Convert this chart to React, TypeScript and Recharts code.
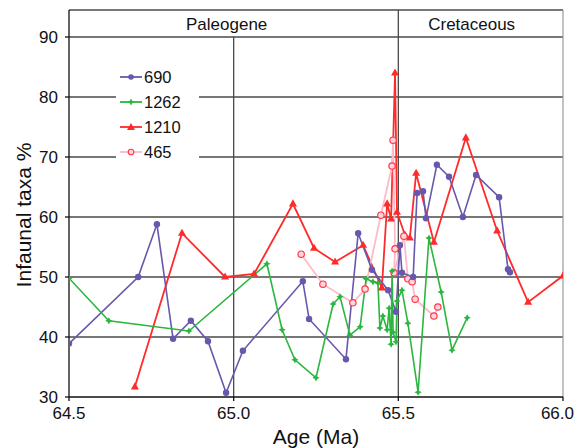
import { LineChart, Line, XAxis, YAxis, ReferenceLine, ReferenceArea } from "recharts";

const FONT = '"Liberation Sans", Arial, Helvetica, sans-serif';

const PURPLE = "#6858ad";
const GREEN = "#2bb63f";
const RED = "#ff2a2a";
const PINK = "#ffbac8";
const GRID = "#4a4a4a";

// Site 690
const age690 = [
  64.5, 64.71, 64.767, 64.816, 64.87, 64.922, 64.977, 65.028, 65.21, 65.229, 65.341,
  65.378, 65.42, 65.469, 65.493, 65.505, 65.511, 65.545, 65.557, 65.575, 65.584,
  65.617, 65.654, 65.696, 65.736, 65.806, 65.833, 65.839,
];
const pct690 = [
  38.9, 50.0, 58.8, 39.7, 42.7, 39.3, 30.7, 37.7, 49.3, 43.0, 36.3,
  57.3, 51.2, 47.8, 44.2, 55.3, 50.7, 50.0, 64.0, 64.3, 59.8,
  68.7, 66.7, 60.0, 67.0, 63.3, 51.3, 50.8,
];

// Site 1262
const age1262 = [
  64.5, 64.621, 64.864, 65.101, 65.147, 65.186, 65.25, 65.302, 65.323, 65.353, 65.384,
  65.402, 65.423, 65.438, 65.444, 65.453, 65.466, 65.472, 65.478, 65.481, 65.484,
  65.493, 65.496, 65.511, 65.529, 65.56, 65.593, 65.63, 65.663, 65.709,
];
const pct1262 = [
  49.8, 42.7, 41.0, 52.2, 41.2, 36.2, 33.2, 45.5, 46.7, 40.3, 41.7,
  49.7, 49.2, 49.0, 41.5, 43.5, 41.2, 44.8, 38.8, 51.0, 40.8,
  39.2, 46.0, 47.8, 42.3, 30.8, 56.5, 47.5, 37.8, 43.2,
];

// Site 1210
const age1210 = [
  64.7, 64.843, 64.974, 65.062, 65.18, 65.244, 65.308, 65.393, 65.45, 65.466, 65.478,
  65.49, 65.496, 65.52, 65.535, 65.554, 65.608, 65.705, 65.8, 65.894, 66.0,
];
const pct1210 = [
  31.7, 57.3, 50.0, 50.5, 62.2, 54.8, 52.5, 55.3, 48.2, 62.2, 59.7,
  84.0, 60.8, 57.0, 56.5, 67.3, 55.8, 73.2, 57.7, 45.8, 50.2,
];

// Site 465
const age465 = [
  65.205, 65.271, 65.362, 65.399, 65.447, 65.481, 65.484, 65.49, 65.487, 65.517,
  65.529, 65.542, 65.551, 65.608, 65.62,
];
const pct465 = [
  53.8, 48.8, 45.7, 48.0, 60.3, 68.5, 72.8, 54.7, 50.7, 56.8,
  49.7, 49.2, 46.3, 43.5, 45.0,
];

const xTicks = [64.5, 65.0, 65.5, 66.0];
const yTicks = [30, 40, 50, 60, 70, 80, 90];
const gridY = [40, 50, 60, 70, 80, 90];

const toPoints = (ages: number[], pcts: number[]) =>
  ages.map((age, i) => ({ age, pct: pcts[i] }));

const data690 = toPoints(age690, pct690);
const data1262 = toPoints(age1262, pct1262);
const data1210 = toPoints(age1210, pct1210);
const data465 = toPoints(age465, pct465);

function circleDot(props: any) {
  const { cx, cy, index } = props;
  return <circle key={`p${index}`} cx={cx} cy={cy} r={3.2} fill={PURPLE} />;
}

function starPath(cx: number, cy: number, r: number) {
  const s = r * 0.35;
  return `M${cx},${cy - r}L${cx + s},${cy - s}L${cx + r},${cy}L${cx + s},${cy + s}L${cx},${cy + r}L${cx - s},${cy + s}L${cx - r},${cy}L${cx - s},${cy - s}Z`;
}

function starDot(props: any) {
  const { cx, cy, index } = props;
  return <path key={`g${index}`} d={starPath(cx, cy, 3.6)} fill={GREEN} />;
}

function triPath(cx: number, cy: number) {
  return `M${cx},${cy - 4.5}L${cx + 4},${cy + 2.6}L${cx - 4},${cy + 2.6}Z`;
}

function triangleDot(props: any) {
  const { cx, cy, index } = props;
  return <path key={`r${index}`} d={triPath(cx, cy)} fill={RED} />;
}

function ringDot(props: any) {
  const { cx, cy, index } = props;
  return (
    <circle
      key={`k${index}`}
      cx={cx}
      cy={cy}
      r={3.2}
      fill="#ffd6de"
      stroke="#ff3846"
      strokeWidth={1.2}
    />
  );
}

// keeps the last label (66.0) inside the picture
function AgeTick(props: any) {
  const { x, y, payload } = props;
  const isLast = payload.value >= 66;
  return (
    <text
      x={isLast ? 574 : x}
      y={y}
      dy="0.71em"
      textAnchor={isLast ? "end" : "middle"}
      fontFamily={FONT}
      fontSize={17}
      fill="#111"
    >
      {Number(payload.value).toFixed(1)}
    </text>
  );
}

const headerLabel = (text: string, dx: number) => (props: any) => {
  const vb = props.viewBox;
  return (
    <text
      x={vb.x + vb.width / 2 + dx}
      y={vb.y + vb.height / 2 + 1}
      textAnchor="middle"
      dominantBaseline="central"
      fontFamily={FONT}
      fontSize={17}
      fill="#111"
    >
      {text}
    </text>
  );
};

const legendItems = [
  { name: "690", color: PURPLE, marker: "circle" },
  { name: "1262", color: GREEN, marker: "star" },
  { name: "1210", color: RED, marker: "triangle" },
  { name: "465", color: PINK, marker: "ring" },
];

function LegendMarker({ marker }: { marker: string }) {
  if (marker === "circle") return <circle cx={11} cy={8} r={2.8} fill={PURPLE} />;
  if (marker === "star") return <path d={starPath(11, 8, 3.4)} fill={GREEN} />;
  if (marker === "triangle") return <path d={triPath(11, 8.5)} fill={RED} />;
  return <circle cx={11} cy={8} r={2.8} fill="#ffd6de" stroke="#ff3846" strokeWidth={1.1} />;
}

function ChartLegend() {
  return (
    <div
      style={{
        position: "absolute",
        left: 116,
        top: 63,
        width: 83,
        height: 101,
        background: "#fff",
        fontFamily: FONT,
        fontSize: 16.5,
        color: "#111",
      }}
    >
      {legendItems.map((item, idx) => (
        <div
          key={item.name}
          style={{
            position: "absolute",
            left: 4,
            top: 6 + idx * 25,
            height: 16,
            display: "flex",
            alignItems: "center",
          }}
        >
          <svg width={23} height={16} style={{ display: "block" }}>
            <line x1={0} y1={8} x2={22} y2={8} stroke={item.color} strokeWidth={1.8} />
            <LegendMarker marker={item.marker} />
          </svg>
          <span style={{ marginLeft: 1, lineHeight: "16px" }}>{item.name}</span>
        </div>
      ))}
    </div>
  );
}

export default function App() {
  return (
    <div style={{ position: "fixed", left: 0, top: 0, width: 575, height: 448, background: "#fff" }}>
      <LineChart width={575} height={448} margin={{ top: 10, right: 12, left: 0, bottom: 0 }}>
        <XAxis
          type="number"
          dataKey="age"
          domain={[64.5, 66]}
          allowDataOverflow
          ticks={xTicks}
          interval={0}
          height={51}
          tickSize={4}
          tickMargin={6}
          stroke="#111"
          strokeWidth={1.3}
          tick={<AgeTick />}
          label={(props: any) => {
            const vb = props.viewBox;
            return (
              <text
                x={vb.x + vb.width / 2}
                y={vb.y + 39}
                textAnchor="middle"
                dominantBaseline="central"
                fontFamily={FONT}
                fontSize={21}
                fill="#111"
              >
                Age (Ma)
              </text>
            );
          }}
        />
        <YAxis
          type="number"
          dataKey="pct"
          domain={[30, 94.5]}
          allowDataOverflow
          ticks={yTicks}
          interval={0}
          width={69}
          tickSize={4}
          tickMargin={7}
          stroke="#111"
          strokeWidth={1.3}
          tick={{ fontFamily: FONT, fontSize: 17, fill: "#111" }}
          label={(props: any) => {
            const vb = props.viewBox;
            const cx = 23;
            const cy = vb.y + 205;
            return (
              <text
                x={cx}
                y={cy}
                transform={`rotate(-90 ${cx} ${cy})`}
                textAnchor="middle"
                dominantBaseline="central"
                fontFamily={FONT}
                fontSize={21}
                fill="#111"
              >
                Infaunal taxa %
              </text>
            );
          }}
        />

        {gridY.map((v) => (
          <ReferenceLine key={v} y={v} stroke={GRID} strokeWidth={1.3} />
        ))}
        <ReferenceLine y={94.5} stroke={GRID} strokeWidth={1.3} />
        <ReferenceLine x={66} stroke="#9a9a9a" strokeWidth={1.2} />
        <ReferenceLine
          segment={[
            { x: 65, y: 30 },
            { x: 65, y: 90 },
          ]}
          stroke={GRID}
          strokeWidth={1.3}
        />
        <ReferenceLine x={65.5} stroke={GRID} strokeWidth={1.3} />
        <ReferenceArea
          x1={64.5}
          x2={65.5}
          y1={90}
          y2={94.5}
          fill="none"
          fillOpacity={0}
          label={headerLabel("Paleogene", -7)}
        />
        <ReferenceArea
          x1={65.5}
          x2={66}
          y1={90}
          y2={94.5}
          fill="none"
          fillOpacity={0}
          label={headerLabel("Cretaceous", -9)}
        />

        <Line
          data={data1210}
          dataKey="pct"
          type="linear"
          stroke={RED}
          strokeWidth={1.8}
          dot={triangleDot}
          activeDot={false}
          isAnimationActive={false}
        />
        <Line
          data={data465}
          dataKey="pct"
          type="linear"
          stroke={PINK}
          strokeWidth={1.8}
          dot={ringDot}
          activeDot={false}
          isAnimationActive={false}
        />
        <Line
          data={data690}
          dataKey="pct"
          type="linear"
          stroke={PURPLE}
          strokeWidth={1.6}
          dot={circleDot}
          activeDot={false}
          isAnimationActive={false}
        />
        <Line
          data={data1262}
          dataKey="pct"
          type="linear"
          stroke={GREEN}
          strokeWidth={1.6}
          dot={starDot}
          activeDot={false}
          isAnimationActive={false}
        />
      </LineChart>
      <ChartLegend />
    </div>
  );
}
